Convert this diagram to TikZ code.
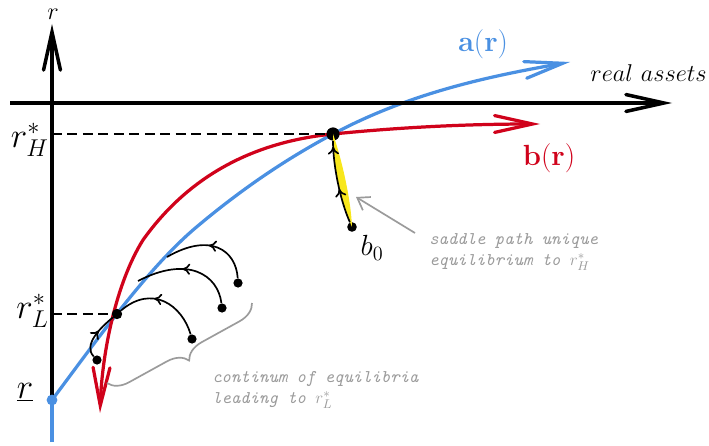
\documentclass[tikz,border=0pt]{standalone}
\usetikzlibrary{arrows.meta,decorations.pathreplacing,decorations.markings}
\definecolor{ablue}{RGB}{74,144,226}
\definecolor{bred}{RGB}{208,2,27}
\definecolor{syellow}{RGB}{248,231,28}
\definecolor{notegray}{RGB}{155,155,155}
\begin{document}
\begin{tikzpicture}[x=0.025cm,y=-0.025cm,
  bigbarb/.tip={Straight Barb[length=27pt,width=12pt,line cap=round]},
  bigtip/.style={-bigbarb},
  axisline/.style={line width=2.5pt, black},
  curveline/.style={line width=2.3pt},
  smalltip/.tip={Computer Modern Rightarrow[length=5.5pt,width=8pt]},
  midtip/.style={decoration={markings, mark=at position #1 with {\arrow{smalltip}}}, postaction={decorate}},
  trajline/.style={line width=1.2pt, black},
  dotnode/.style={circle, fill=black, inner sep=0pt, minimum size=#1},
  lab/.style={font=\fontsize{23}{27}\selectfont, inner sep=0pt},
  notetext/.style={font=\fontsize{12.7}{15}\selectfont\ttfamily\itshape, text=notegray, align=left, inner sep=0pt}
]
\useasboundingbox (0,0) rectangle (709,446);

% coordinates
\coordinate (xl) at (10,103);
\coordinate (xr) at (672,103);
\coordinate (ytop) at (52,24);
\coordinate (ybot) at (52,442);
\coordinate (yH) at (52,134);
\coordinate (yL) at (52,314);
\coordinate (Hc) at (333,134);
\coordinate (Rc) at (52,400);
\coordinate (aend) at (570,62);
\coordinate (bstart) at (100,413);
\coordinate (bend) at (540,124);

% blue a(r)
\draw[ablue, curveline] (ybot) -- (Rc);
\draw[ablue, curveline, bigtip] (Rc) .. controls (99,337) and (146,271) .. (193,230)
  .. controls (240,190) and (286,159) .. (Hc)
  .. controls (412,92) and (491,76) .. (aend);

% red b(r)
\draw[bred, curveline, bigbarb-bigbarb] (bstart) .. controls (102,353) and (116,283) .. (143,240)
  .. controls (183,184) and (243,143) .. (Hc)
  .. controls (403,127) and (470,124) .. (bend);

% axes
\draw[axisline] (Rc) -- (yH);
\draw[axisline, bigtip] (xl) -- (xr);
\draw[axisline, bigtip] (yH) -- (ytop);

% equilibrium points
\node[dotnode=0.33cm] (H) at (Hc) {};
\node[dotnode=0.26cm] (L) at (117,314) {};
\node[circle, fill=ablue, inner sep=0pt, minimum size=0.27cm] (R) at (Rc) {};

% dashed guides
\draw[line width=0.9pt, dash pattern=on 7pt off 4pt] (yH) -- (H);
\draw[line width=0.9pt, dash pattern=on 7pt off 4pt] (yL) -- (L);

% saddle path
\node[dotnode=0.24cm] (b0) at (352,227) {};
\fill[syellow] (352,227) .. controls (340,200) and (333,165) .. (333,134)
  .. controls (342,160) and (351,200) .. (352,227);
\draw[trajline, decoration={markings,
   mark=at position 0.42 with {\arrow{smalltip}},
   mark=at position 0.93 with {\arrow{smalltip}}},
   postaction={decorate}]
  (b0) .. controls (340,200) and (333,165) .. (H.south);

% trajectories toward r_L
\node[dotnode=0.23cm] (t1) at (238,283) {};
\node[dotnode=0.23cm] (t2) at (222,308) {};
\node[dotnode=0.23cm] (t3) at (192,339) {};
\node[dotnode=0.23cm] (t4) at (97,360) {};
\coordinate (e1) at (167,257);
\coordinate (e2) at (138,281);
\draw[trajline, midtip=0.52] (t1) .. controls (236,250) and (210,232) .. (e1);
\draw[trajline, midtip=0.55] (t2) .. controls (218,275) and (188,255) .. (e2);
\draw[trajline, midtip=0.6] (t3) .. controls (182,305) and (152,284) .. (L);
\draw[trajline, midtip=0.6] (t4) .. controls (83,345) and (100,328) .. (L);

% labels
\node[font=\fontsize{19}{23}\selectfont, inner sep=0pt, anchor=base] (rlab) at (53,20) {$r$};
\node[font=\fontsize{19}{23}\selectfont, inner sep=0pt, anchor=base east] (ra) at (707,82) {$real\ assets$};
\node[lab, anchor=east] (rH) at (49,140) {$r_H^*$};
\node[lab, anchor=east] (rL) at (49,311) {$r_L^*$};
\node[lab] (rund) at (25,392) {$\underline{r}$};
\node[font=\fontsize{19.5}{23}\selectfont, text=ablue] (alab) at (483,44) {$\mathbf{a}(\mathbf{r})$};
\node[font=\fontsize{19.5}{23}\selectfont, text=bred] (blab) at (549,158) {$\mathbf{b}(\mathbf{r})$};
\node[font=\fontsize{21}{24}\selectfont] (b0lab) at (372,248) {$b_0$};

% annotations
\coordinate (ga) at (415,233);
\coordinate (gb) at (356,197);
\draw[notegray, line width=1.2pt, -{Straight Barb[length=8pt,width=11pt]}] (ga) -- (gb);
\node[notetext, anchor=north west] (n1) at (429,233) {saddle path unique\\equilibrium to $r_H^*$};
\draw[notegray, line width=1.2pt, decorate, decoration={brace, amplitude=0.5cm}] (252,303) -- (107,383);
\node[notetext, anchor=north west] (n2) at (212,371) {continum of equilibria\\leading to $r_L^*$};
\end{tikzpicture}
\end{document}
